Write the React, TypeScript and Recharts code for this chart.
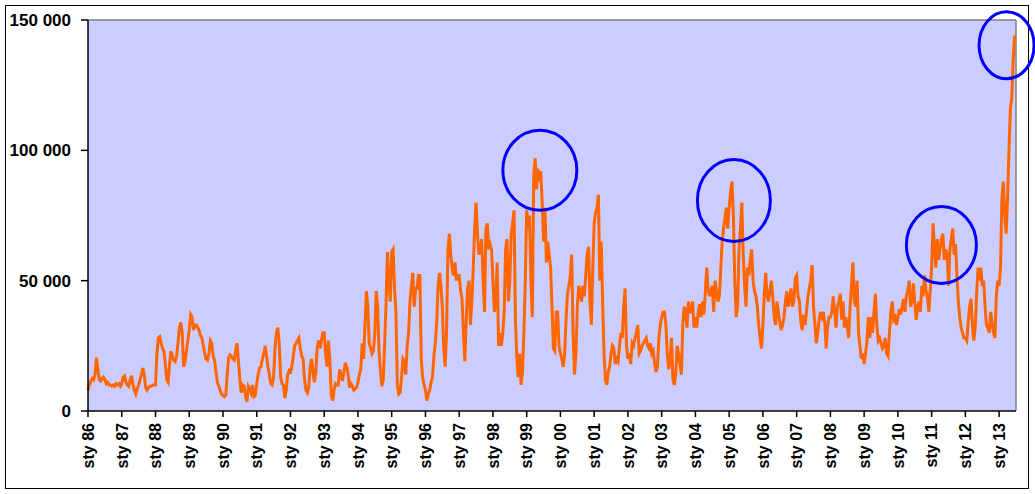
import React from "react";
import {
  LineChart,
  Line,
  XAxis,
  YAxis,
  CartesianGrid,
  ReferenceLine,
  ReferenceDot,
} from "recharts";

// Semi-monthly readings (thousands), 24 per calendar year
const y1986 = [8, 10, 11.5, 12.5, 12, 14, 20.5, 16, 12, 11.5, 12.5, 13, 12, 10.5, 11, 10, 10, 9.5, 10, 9.5, 10.5, 10, 10.5, 9.5];
const y1987 = [10.5, 13, 13.5, 11, 10, 9.5, 12, 13.5, 10, 8, 6.5, 8.5, 10, 12, 14, 16.5, 14, 9, 8, 9, 9.5, 9.5, 10, 10];
const y1988 = [10, 22, 28, 28.5, 26, 24, 23, 18, 12, 11, 18, 23, 21, 19.5, 19, 21, 26, 32, 34, 30, 17, 19, 23, 27];
const y1989 = [31, 37, 36, 31, 33, 33, 32, 31, 29, 28, 25, 22, 20, 19.5, 22, 27, 26, 21, 19.5, 15, 11, 9.5, 8, 6.5];
const y1990 = [6, 5.5, 6, 14, 20.5, 21.5, 21, 20, 19.5, 23, 26, 19, 12, 7, 10, 9.5, 6, 3.5, 9.5, 8.5, 7, 10, 5.5, 6];
const y1991 = [10.5, 14, 16.5, 17, 20, 22, 25, 21, 17, 14, 10.5, 10, 13, 24, 30, 32, 26, 13, 10.5, 10, 5, 8, 14, 15.5];
const y1992 = [15, 17, 21, 25, 26, 27, 28, 24, 21, 20, 12, 8, 7, 9, 17, 20, 15, 11, 15, 24, 27, 24, 27, 30];
const y1993 = [30, 22, 17, 27, 20, 6, 4, 8, 10.5, 10, 10, 16, 14, 11.5, 15, 18.5, 17, 14, 9, 10.5, 9.5, 8, 8.5, 9];
const y1994 = [11, 14, 16, 26, 20, 33, 46, 40, 26, 24, 22, 23, 30, 46, 40, 23, 15, 9.5, 12, 26, 42, 61, 48, 42];
const y1995 = [61, 62, 47, 38, 10, 6.5, 7, 13, 20, 19, 14, 25, 30, 42, 48, 53, 40, 47, 47, 52, 52, 20, 13, 10];
const y1996 = [8, 4, 6.5, 8, 11, 13, 21, 26, 34, 48, 53, 48, 40, 24, 17, 30, 62, 68, 60, 55, 52, 57, 50, 52];
const y1997 = [52, 46, 43, 30, 19, 35, 47, 50, 33, 42, 55, 70, 80, 68, 60, 62, 66, 50, 38, 70, 72, 62, 64, 62];
const y1998 = [50, 38, 42, 57, 25, 30, 25, 30, 38, 62, 66, 42, 50, 68, 72, 77, 35, 20, 13, 22, 10, 15, 30, 50];
const y1999 = [77, 70, 75, 50, 36, 90, 97, 85, 93, 88, 92, 80, 65, 78, 57, 65, 60, 55, 40, 24, 23, 38, 38, 25];
const y2000 = [22, 20, 17, 22, 35, 45, 48, 52, 60, 30, 14, 22, 40, 48, 46, 42, 48, 44, 52, 60, 63, 42, 33, 55];
const y2001 = [72, 76, 78, 83, 50, 65, 42, 22, 12, 10, 15, 17, 22, 25, 24, 18, 20, 19, 25, 30, 28, 40, 47, 25];
const y2002 = [20, 22, 18, 26, 25, 28, 30, 33, 22, 23, 25, 26, 27, 28, 25, 24, 26, 22, 23, 18, 15, 17, 28, 33];
const y2003 = [36, 38, 38, 33, 22, 16, 20, 28, 12, 10, 14, 25, 22, 18, 14, 33, 40, 38, 32, 42, 38, 38, 42, 32];
const y2004 = [36, 32, 38, 41, 36, 42, 37, 45, 55, 47, 44, 46, 48, 38, 50, 46, 42, 44, 54, 65, 70, 74, 78, 70];
const y2005 = [78, 84, 88, 75, 50, 36, 40, 62, 70, 80, 60, 48, 40, 55, 52, 58, 62, 50, 46, 44, 40, 33, 28, 24];
const y2006 = [33, 45, 53, 44, 42, 46, 50, 44, 36, 33, 42, 38, 34, 31, 33, 36, 42, 46, 40, 43, 47, 40, 42, 51];
const y2007 = [52, 44, 42, 34, 31, 37, 33, 38, 44, 47, 50, 56, 40, 33, 26, 30, 35, 38, 36, 38, 34, 24, 32, 36];
const y2008 = [36, 38, 44, 38, 32, 40, 42, 45, 35, 42, 32, 36, 33, 28, 40, 48, 57, 42, 40, 50, 30, 25, 20, 22];
const y2009 = [18, 22, 27, 36, 28, 36, 30, 38, 45, 33, 27, 28, 26, 24, 25, 28, 22, 21, 30, 38, 42, 35, 36, 33];
const y2010 = [36, 39, 37, 40, 43, 38, 44, 46, 50, 40, 42, 49, 42, 35, 40, 42, 38, 48, 44, 52, 46, 44, 38, 46];
const y2011 = [55, 72, 62, 55, 66, 58, 62, 66, 68, 58, 62, 60, 48, 62, 66, 70, 60, 64, 52, 42, 36, 32, 30, 28];
const y2012 = [28, 27, 34, 40, 43, 33, 27, 32, 45, 55, 50, 55, 48, 50, 40, 33, 32, 30, 38, 34, 30, 28, 44, 50];
const y2013 = [48, 55, 82, 88, 75, 68, 82, 100, 116, 120, 135, 144];

const years = [
  1986, 1987, 1988, 1989, 1990, 1991, 1992, 1993, 1994, 1995, 1996, 1997, 1998, 1999,
  2000, 2001, 2002, 2003, 2004, 2005, 2006, 2007, 2008, 2009, 2010, 2011, 2012, 2013,
];
const yearLabels = [
  "sty 86", "sty 87", "sty 88", "sty 89", "sty 90", "sty 91", "sty 92", "sty 93", "sty 94",
  "sty 95", "sty 96", "sty 97", "sty 98", "sty 99", "sty 00", "sty 01", "sty 02", "sty 03",
  "sty 04", "sty 05", "sty 06", "sty 07", "sty 08", "sty 09", "sty 10", "sty 11", "sty 12",
  "sty 13",
];
const yTicks = [0, 50, 100, 150];
const yTickLabels = ["0", "50 000", "100 000", "150 000"];

// highlighted episodes (date, value in thousands)
const highlightT = [1999.39, 2005.14, 2011.29, 2013.22];
const highlightV = [92.4, 80.8, 63.7, 140.3];

const yearSeries = [
  y1986, y1987, y1988, y1989, y1990, y1991, y1992, y1993, y1994, y1995, y1996, y1997, y1998, y1999,
  y2000, y2001, y2002, y2003, y2004, y2005, y2006, y2007, y2008, y2009, y2010, y2011, y2012, y2013,
];

const data: { t: number; v: number }[] = [];
yearSeries.forEach((vals, i) => {
  vals.forEach((v, k) => {
    data.push({ t: years[i] + k / 24, v });
  });
});

// styles
const FONT = "'Liberation Sans', Arial, Helvetica, sans-serif";
const ELLIPSE_R = [
  [37, 40],
  [36.5, 41],
  [35, 38.5],
  [27.5, 33.5],
];

const XTick = (props: any) => {
  const { x, y, payload } = props;
  const idx = years.indexOf(Math.round(payload.value));
  return (
    <text
      x={0}
      y={0}
      transform={`translate(${x},${y + 4}) rotate(-90)`}
      textAnchor="end"
      dy="0.36em"
      fontSize={16}
      fontWeight="bold"
      fontFamily={FONT}
      fill="#000"
    >
      {yearLabels[idx]}
    </text>
  );
};

const makeEllipse = (rx: number, ry: number) => (p: any) => (
  <ellipse cx={p.cx} cy={p.cy} rx={rx} ry={ry} fill="none" stroke="#0000FF" strokeWidth={3} />
);

export default function App() {
  return (
    <div style={{ position: "absolute", left: 0, top: 0, width: 1035, height: 494, background: "#fff" }}>
      <div
        style={{
          position: "absolute",
          left: 5,
          top: 5,
          width: 1024,
          height: 484,
          border: "1px solid #000",
          boxSizing: "border-box",
        }}
      />
      <div style={{ position: "absolute", left: 0, top: 0 }}>
        <LineChart
          width={1035}
          height={494}
          data={data}
          margin={{ top: 20, right: 19, left: 0, bottom: 0 }}
        >
          <CartesianGrid fill="#CCCCFF" fillOpacity={1} stroke="none" horizontal={false} vertical={false} />
          <XAxis
            dataKey="t"
            type="number"
            domain={[1986, 2013.5]}
            ticks={years}
            interval={0}
            height={83}
            tick={<XTick />}
            tickSize={6}
            stroke="#000"
            axisLine={{ stroke: "#000", strokeWidth: 1.5 }}
            tickLine={{ stroke: "#000", strokeWidth: 1.5 }}
          />
          <YAxis
            type="number"
            domain={[0, 150]}
            ticks={yTicks}
            interval={0}
            width={88}
            tickSize={7}
            tickMargin={10}
            tickFormatter={(v: number) => yTickLabels[yTicks.indexOf(v)]}
            tick={{ fill: "#000", fontSize: 17, fontWeight: "bold", fontFamily: FONT }}
            axisLine={{ stroke: "#000", strokeWidth: 1.5 }}
            tickLine={{ stroke: "#000", strokeWidth: 1.5 }}
          />
          <ReferenceLine y={150} stroke="#808080" strokeWidth={1.5} />
          <ReferenceLine x={2013.5} stroke="#808080" strokeWidth={1.5} />
          <Line
            type="linear"
            dataKey="v"
            stroke="#FF6600"
            strokeWidth={3}
            dot={false}
            isAnimationActive={false}
          />
          {highlightT.map((t, i) => (
            <ReferenceDot
              key={i}
              x={t}
              y={highlightV[i]}
              r={1}
              ifOverflow="visible"
              shape={makeEllipse(ELLIPSE_R[i][0], ELLIPSE_R[i][1])}
            />
          ))}
        </LineChart>
      </div>
    </div>
  );
}
